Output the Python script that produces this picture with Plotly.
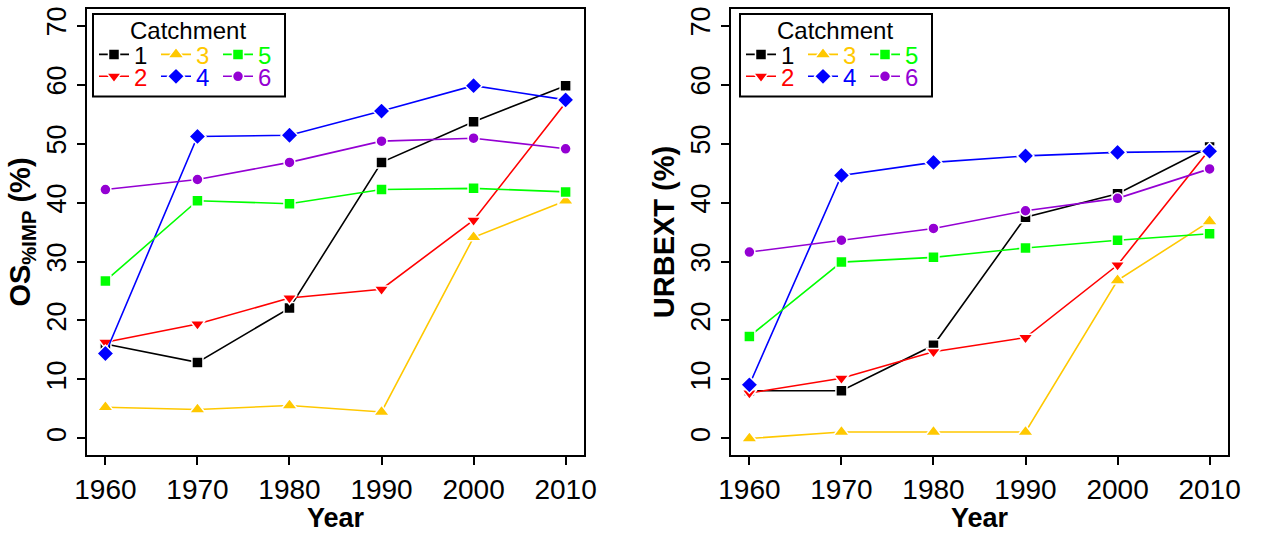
import plotly.graph_objects as go
from plotly.subplots import make_subplots

years = [1960, 1970, 1980, 1990, 2000, 2010]
catchments = ["1", "2", "3", "4", "5", "6"]

os_imp = {
    "1": [16.0, 12.9, 22.1, 46.8, 53.7, 59.8],
    "2": [16.3, 19.4, 23.8, 25.3, 37.0, 56.9],
    "3": [5.3, 4.9, 5.6, 4.5, 34.1, 40.3],
    "4": [14.4, 51.2, 51.4, 55.5, 59.8, 57.4],
    "5": [26.7, 40.3, 39.8, 42.2, 42.4, 41.8],
    "6": [42.2, 43.9, 46.8, 50.4, 50.9, 49.1],
}
urbext = {
    "1": [8.1, 8.1, 15.8, 37.5, 41.5, 49.4],
    "2": [7.7, 10.2, 14.7, 17.1, 29.4, 49.0],
    "3": [0.0, 1.1, 1.1, 1.1, 26.8, 36.8],
    "4": [9.1, 44.6, 46.8, 47.9, 48.5, 48.7],
    "5": [17.3, 29.9, 30.7, 32.3, 33.6, 34.7],
    "6": [31.6, 33.6, 35.6, 38.6, 40.7, 45.7],
}

colors = {"1": "#000000", "2": "#FF0000", "3": "#FFC800", "4": "#0000FF", "5": "#00FF00", "6": "#9400D3"}
symbols = {"1": "square", "2": "triangle-down", "3": "triangle-up", "4": "diamond", "5": "square", "6": "circle"}
sizes = {"1": 11, "2": 13, "3": 14, "4": 13, "5": 11, "6": 11}

FONT = "Liberation Sans, Arial, sans-serif"

W, H = 1262, 533
ML, MR, MT, MB = 87, 34, 7, 78
PW = W - ML - MR
PH = H - MT - MB


def px2x(px):
    return (px - ML) / PW


def py2y(py):
    return 1 - (py - MT) / PH


fig = make_subplots(rows=1, cols=2, horizontal_spacing=0.1288)

for col, data in ((1, os_imp), (2, urbext)):
    for c in catchments:
        row_top = c in ("1", "3", "5")
        if col == 1:
            leg = "legend" if row_top else "legend2"
        else:
            leg = "legend3" if row_top else "legend4"
        fig.add_trace(
            go.Scatter(
                x=years,
                y=data[c],
                mode="lines+markers",
                name=f"<span style='color:{colors[c]}'>{c}</span>",
                line=dict(color=colors[c], width=1.6),
                marker=dict(symbol=symbols[c], size=sizes[c], color=colors[c],
                            line=dict(color="white", width=1.5)),
                legend=leg,
                legendrank=int(c),
                showlegend=True,
            ),
            row=1, col=col,
        )

axis_common = dict(
    showline=True, mirror=True, linecolor="black", linewidth=2,
    ticks="outside", ticklen=8, tickwidth=1.5, tickcolor="black",
    showgrid=False, zeroline=False,
)

for col in (1, 2):
    fig.update_xaxes(range=[1958, 2012], tickvals=years, ticktext=[str(y) for y in years],
                     tickfont=dict(family=FONT, size=28, color="black"),
                     title=dict(text="<b>Year</b>", font=dict(family=FONT, size=27, color="black"), standoff=2),
                     row=1, col=col, **axis_common)
    fig.update_yaxes(range=[-2.8, 72.8], tickvals=list(range(0, 71, 10)), tickangle=-90,
                     tickfont=dict(family=FONT, size=27, color="black"),
                     row=1, col=col, **axis_common)

fig.update_yaxes(title=dict(text="<b>OS<sub>%IMP</sub> (%)</b>", font=dict(family=FONT, size=29, color="black"), standoff=3), row=1, col=1)
fig.update_yaxes(title=dict(text="<b>URBEXT (%)</b>", font=dict(family=FONT, size=29, color="black"), standoff=3), row=1, col=2)

legend_common = dict(
    orientation="h", bgcolor="rgba(0,0,0,0)", borderwidth=0,
    font=dict(family=FONT, size=24, color="black"),
    entrywidth=17, entrywidthmode="pixels", itemwidth=30,
    xanchor="left", yanchor="middle", tracegroupgap=0,
)

shapes = []
annotations = []
for off, (l1, l2) in ((0, ("legend", "legend2")), (647, ("legend3", "legend4"))):
    fig.update_layout(**{
        l1: dict(x=px2x(94 + off), y=py2y(53), **legend_common),
        l2: dict(x=px2x(94 + off), y=py2y(75), **legend_common),
    })
    shapes.append(dict(type="rect", xref="paper", yref="paper",
                       x0=px2x(93 + off), x1=px2x(285 + off), y0=py2y(95), y1=py2y(12),
                       line=dict(color="black", width=2), fillcolor="white", layer="below"))
    annotations.append(dict(text="Catchment", xref="paper", yref="paper",
                            x=px2x(188 + off), y=py2y(29), showarrow=False,
                            xanchor="center", yanchor="middle",
                            font=dict(family=FONT, size=24, color="black")))

fig.update_layout(
    width=W, height=H,
    margin=dict(l=ML, r=MR, t=MT, b=MB),
    paper_bgcolor="white", plot_bgcolor="white",
    shapes=shapes, annotations=annotations,
    font=dict(family=FONT, color="black"),
)

fig.write_html("out.html")
